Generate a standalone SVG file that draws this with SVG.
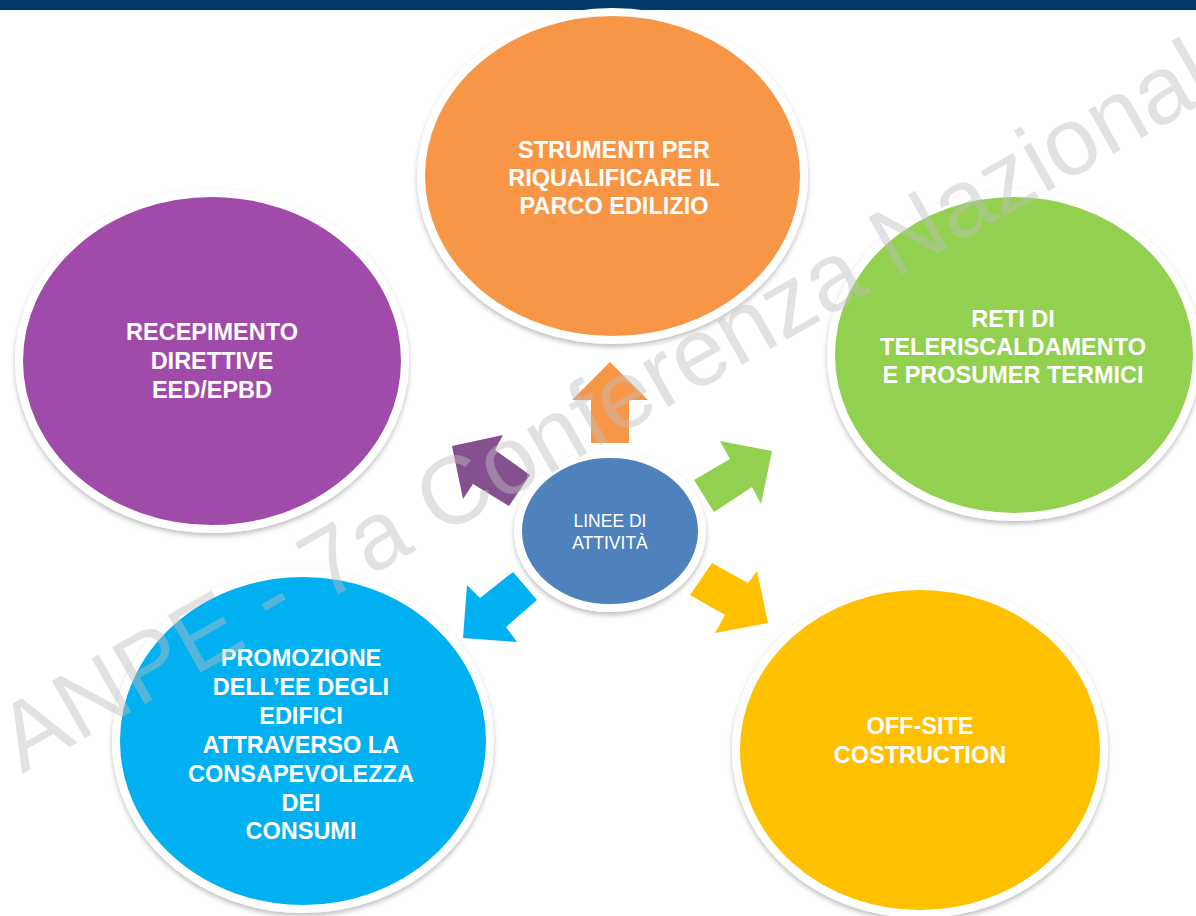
<svg xmlns="http://www.w3.org/2000/svg" width="1196" height="916" viewBox="0 0 1196 916">
<style>
.c{stroke:#fff;stroke-width:8;filter:url(#sh)}
.t{font-family:"Liberation Sans",Arial,sans-serif;font-weight:bold;font-size:23.5px;fill:#fff;text-anchor:middle}
.ct{font-family:"Liberation Sans",Arial,sans-serif;font-size:17.5px;fill:#fff;text-anchor:middle}
.wm{font-family:"Liberation Sans",Arial,sans-serif;font-size:96px;fill:#bfbfbf;fill-opacity:0.45}
</style>
<defs>
<filter id="sh" x="-10%" y="-10%" width="120%" height="125%">
<feDropShadow dx="0" dy="3" stdDeviation="2.5" flood-color="#000" flood-opacity="0.25"/>
</filter>
</defs>
<rect x="0" y="0" width="1196" height="916" fill="#fff"/>
<rect x="0" y="0" width="1196" height="10" fill="#003A6B"/>
<g id="connectors">
<polygon fill="#F79646" points="591,443 591,400 572,400 610,362 648,400 629,400 629,443"/>
<polygon fill="#855090" points="452,446 503,435 495,450 530,475 509,506 473,484 463,499"/>
<polygon fill="#92D050" points="772,451 720,441 730,459 694,480 714,512 752,487 761,504"/>
<polygon fill="#FFC000" points="768,623 757,571 748,583 712,563 690,595 725,615 715,633"/>
<polygon fill="#00B0F0" points="463,638 467,585 480,598 513,572 537,600 506,627 517,642"/>
</g>
<g id="node-strumenti">
<ellipse class="c" cx="612.5" cy="176" rx="191.5" ry="164" fill="#F79646"/>
<text class="t"><tspan x="614" y="158">STRUMENTI PER</tspan><tspan x="614" y="186">RIQUALIFICARE IL</tspan><tspan x="614" y="214">PARCO EDILIZIO</tspan></text>
</g>
<g id="node-recepimento">
<ellipse class="c" cx="212" cy="361" rx="193" ry="168" fill="#A04CAA"/>
<text class="t"><tspan x="212" y="340">RECEPIMENTO</tspan><tspan x="212" y="369">DIRETTIVE</tspan><tspan x="212" y="398">EED/EPBD</tspan></text>
</g>
<g id="node-reti">
<ellipse class="c" cx="1014" cy="355" rx="183" ry="162" fill="#92D050"/>
<text class="t"><tspan x="1013" y="327">RETI DI</tspan><tspan x="1013" y="355">TELERISCALDAMENTO</tspan><tspan x="1013" y="383">E PROSUMER TERMICI</tspan></text>
</g>
<g id="node-offsite">
<ellipse class="c" cx="920" cy="750" rx="184" ry="164" fill="#FFC000"/>
<text class="t"><tspan x="920" y="734">OFF-SITE</tspan><tspan x="920" y="763">COSTRUCTION</tspan></text>
</g>
<g id="node-promozione">
<ellipse class="c" cx="303" cy="741" rx="187" ry="168" fill="#00B0F0"/>
<text class="t"><tspan x="301" y="666">PROMOZIONE</tspan><tspan x="301" y="695">DELL’EE DEGLI</tspan><tspan x="301" y="724">EDIFICI</tspan><tspan x="301" y="753">ATTRAVERSO LA</tspan><tspan x="301" y="782">CONSAPEVOLEZZA</tspan><tspan x="301" y="811">DEI</tspan><tspan x="301" y="839">CONSUMI</tspan></text>
</g>
<g id="node-center">
<ellipse cx="610" cy="531" rx="92" ry="77" fill="#4F81BD" stroke="#fff" stroke-width="8" filter="url(#sh)"/>
<text class="ct"><tspan x="610" y="527">LINEE DI</tspan><tspan x="610" y="549">ATTIVITÀ</tspan></text>
</g>
<text class="wm" transform="translate(22,774) rotate(-29.6)">ANPE - 7a Conferenza Nazionale</text>
</svg>
